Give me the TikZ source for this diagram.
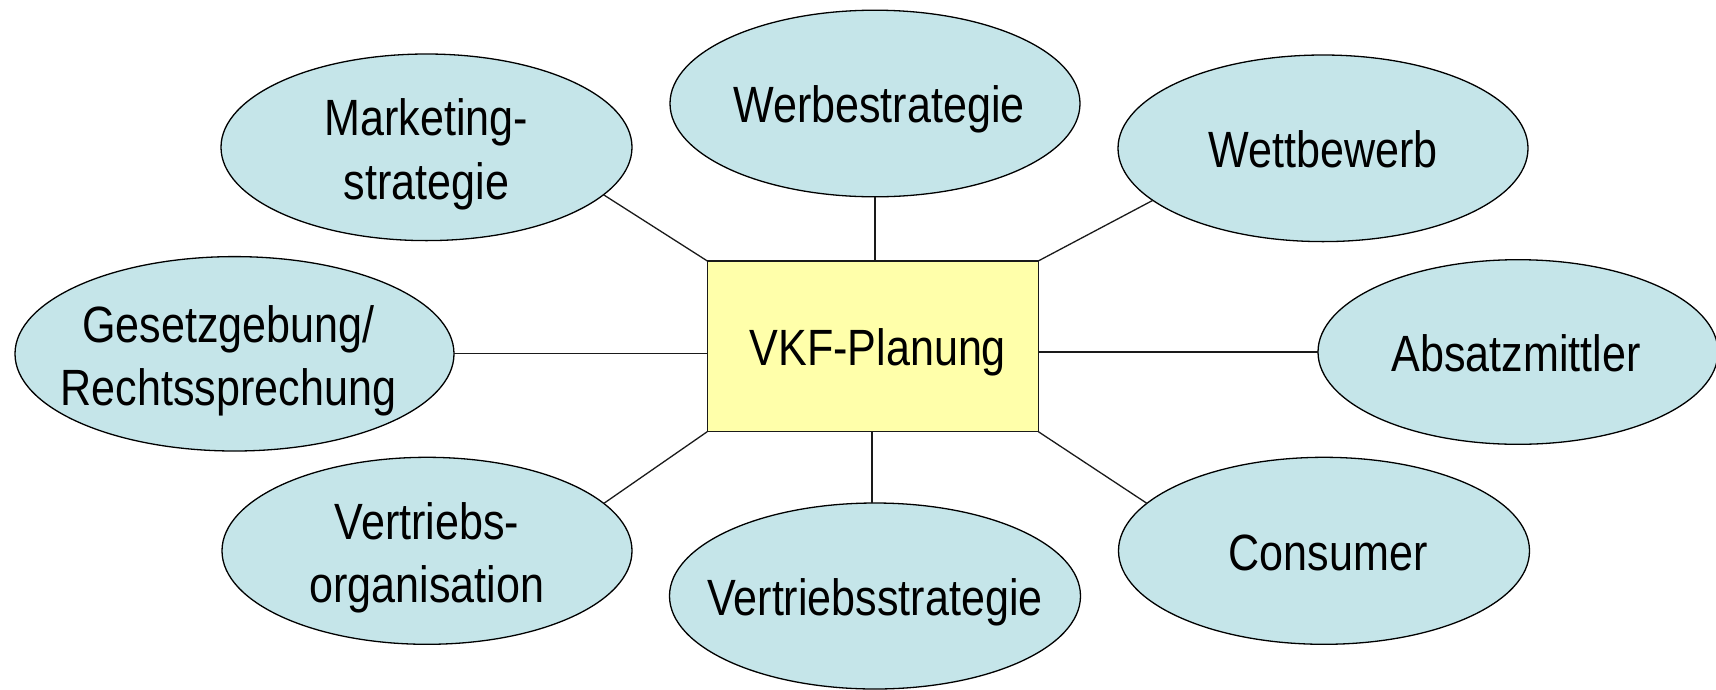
\documentclass[tikz,border=0pt]{standalone}
\usepackage{fontspec}
\setmainfont{Liberation Sans}[FakeStretch=0.845]
\usetikzlibrary{shapes.geometric}
\definecolor{bubfill}{HTML}{C5E5E9}
\definecolor{boxfill}{HTML}{FFFFAA}
\definecolor{linecol}{HTML}{1A1A1A}
\tikzset{
  bub/.style={ellipse, draw=black, fill=bubfill, line width=1.3pt, inner sep=0pt, outer sep=0pt},
  mainbox/.style={rectangle, draw=linecol, fill=boxfill, line width=1.4pt, inner sep=0pt, outer sep=0pt,
     minimum width=331pt, minimum height=170.7pt},
  lbl/.style={font=\fontsize{51}{63.3}\selectfont, inner sep=0pt, align=center},
  one/.style={lbl, text height=36.5pt, text depth=0pt, yshift=-1pt},
  two/.style={lbl, yshift=-7pt},
  conn/.style={draw=linecol, line width=1.3pt}
}
\begin{document}
\begin{tikzpicture}[x=1pt,y=-1pt]
\useasboundingbox (0,0) rectangle (1716,689);
% center box
\node[mainbox] (box) at (872.8,346.3) {};
\node[one, xshift=5pt] (boxt) at (box.center) {VKF-Planung};
% bubbles
\node[bub, minimum width=411pt, minimum height=186.6pt] (m)  at (426.5,147.3) {};
\node[bub, minimum width=410pt, minimum height=186.6pt] (w)  at (875,103.5) {};
\node[bub, minimum width=410pt, minimum height=186.6pt] (wb) at (1323,148.3) {};
\node[bub, minimum width=439pt, minimum height=194.4pt] (g)  at (234.5,353.8) {};
\node[bub, minimum width=400pt, minimum height=184.6pt] (a)  at (1518,352) {};
\node[bub, minimum width=410pt, minimum height=187pt]   (vo) at (427,550.8) {};
\node[bub, minimum width=411pt, minimum height=186pt]   (vs) at (875,596) {};
\node[bub, minimum width=411pt, minimum height=187pt]   (c)  at (1324,550.8) {};
% labels
\node[two] (mt)  at (m.center)  {Marketing-\\strategie};
\node[one, xshift=4pt] (wt)  at (w.center)  {Werbestrategie};
\node[one] (wbt) at (wb.center) {Wettbewerb};
\node[two, xshift=-6pt] (gt)  at (g.center)  {Gesetzgebung/\\Rechtssprechung};
\node[one, xshift=-2pt] (at)  at (a.center)  {Absatzmittler};
\node[two] (vot) at (vo.center) {Vertriebs-\\organisation};
\node[one] (vst) at (vs.center) {Vertriebsstrategie};
\node[one, xshift=4pt] (ct)  at (c.center)  {Consumer};
% connectors
\draw[conn] (m.-15) -- (box.north west);
\draw[conn] (w.south) -- (w.south |- box.north);
\draw[conn] (wb.197) -- (box.north east);
\draw[conn] (g.east) -- (g.east -| box.west);
\draw[conn] (a.west) -- (a.west -| box.east);
\draw[conn] (vo.15) -- (box.south west);
\draw[conn] ([xshift=-3pt]vs.north) -- ([xshift=-3pt]vs.north |- box.south);
\draw[conn] (c.165) -- (box.south east);
\end{tikzpicture}
\end{document}
